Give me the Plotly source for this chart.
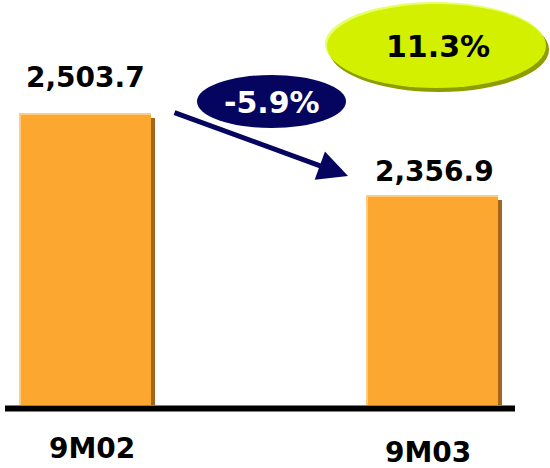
import plotly.graph_objects as go

# Nine-month totals by period
PERIODS = ["9M02", "9M03"]
VALUES = [2503.7, 2356.9]
CHANGE_LABEL = "-5.9%"
BADGE_LABEL = "11.3%"

# Canvas geometry (pixels)
W, H = 550, 468
ML, MR, MT, MB = 5, 35, 0, 63
PLOT_W = W - ML - MR
PLOT_H = H - MT - MB
Y_RANGE = [1981, 2706]
X_RANGE = [-0.2305, 1.239]
X_PX = PLOT_W / (X_RANGE[1] - X_RANGE[0])   # px per category step
Y_PX = PLOT_H / (Y_RANGE[1] - Y_RANGE[0])   # px per unit


def px(x):
    return (x - ML) / PLOT_W


def py(y):
    return (MT + PLOT_H - y) / PLOT_H


FONT = "DejaVu Sans"
ORANGE = "#FCA72F"
ORANGE_LIGHT = "#FFCB7C"
ORANGE_DARK = "#A4661C"
NAVY = "#05055F"
LIME = "#D2F000"
LIME_DARK = "#8E9C00"
LIME_LIGHT = "#E6FF6A"

fig = go.Figure()

# drop shadow on the right of each bar
fig.add_trace(go.Bar(
    x=PERIODS, y=[v - 5 / Y_PX for v in VALUES],
    width=128 / X_PX, offset=-58 / X_PX,
    marker=dict(color=ORANGE_DARK, line=dict(width=0)),
    hoverinfo="skip", showlegend=False,
))
# light bevel on top and left edges
fig.add_trace(go.Bar(
    x=PERIODS, y=VALUES,
    width=132 / X_PX, offset=-66 / X_PX,
    marker=dict(color=ORANGE_LIGHT, line=dict(width=0)),
    hoverinfo="skip", showlegend=False,
))
# main bar fill
fig.add_trace(go.Bar(
    x=PERIODS, y=[v - 2 / Y_PX for v in VALUES],
    width=130 / X_PX, offset=-64 / X_PX,
    marker=dict(color=ORANGE, line=dict(width=0)),
    hoverinfo="skip", showlegend=False,
))

annotations = []

# value labels above the bars
for p, v, dx, dy in zip(PERIODS, VALUES, [0, 2], [36, 24]):
    annotations.append(dict(
        x=p, y=v, xref="x", yref="y", text=f"{v:,.1f}", showarrow=False,
        xanchor="center", yanchor="middle", xshift=dx, yshift=dy,
        font=dict(family=FONT, size=28, color="#000000", weight="bold"),
    ))

# period labels under the baseline
for p, dx, cy in zip(PERIODS, [7, -4], [448, 452]):
    annotations.append(dict(
        x=p, y=py(cy), xref="x", yref="paper", text=p, showarrow=False,
        xanchor="center", yanchor="middle", xshift=dx,
        font=dict(family=FONT, size=28, color="#000000", weight="bold"),
    ))

# change badge text
annotations.append(dict(
    x=px(271.5), y=py(102), xref="paper", yref="paper", text=CHANGE_LABEL,
    showarrow=False, xanchor="center", yanchor="middle",
    font=dict(family=FONT, size=30, color="#FFFFFF", weight="bold"),
))
annotations.append(dict(
    x=px(438), y=py(46), xref="paper", yref="paper", text=BADGE_LABEL,
    showarrow=False, xanchor="center", yanchor="middle",
    font=dict(family=FONT, size=30, color="#000000", weight="bold"),
))

# trend arrow
annotations.append(dict(
    x=px(348), y=py(176), xref="paper", yref="paper", text="",
    showarrow=True, arrowhead=2, arrowsize=1.2, arrowwidth=5,
    arrowcolor=NAVY, ax=173 - 348, ay=112 - 176, standoff=0,
))

shapes = [
    # lime badge: shadow, highlight, face
    dict(type="circle", xref="paper", yref="paper", layer="below",
         x0=px(329), x1=px(549), y0=py(92), y1=py(7),
         fillcolor=LIME_DARK, line=dict(width=0)),
    dict(type="circle", xref="paper", yref="paper", layer="below",
         x0=px(325), x1=px(545), y0=py(86), y1=py(2),
         fillcolor=LIME_LIGHT, line=dict(width=0)),
    dict(type="circle", xref="paper", yref="paper", layer="below",
         x0=px(327), x1=px(546), y0=py(88), y1=py(4),
         fillcolor=LIME, line=dict(width=0)),
    # navy change badge
    dict(type="circle", xref="paper", yref="paper", layer="above",
         x0=px(197), x1=px(346), y0=py(128), y1=py(75),
         fillcolor=NAVY, line=dict(width=0)),
    # baseline
    dict(type="line", xref="paper", yref="paper", layer="above",
         x0=0, x1=1, y0=py(408.5), y1=py(408.5),
         line=dict(color="#000000", width=6)),
]

fig.update_layout(
    width=W, height=H,
    margin=dict(l=ML, r=MR, t=MT, b=MB, pad=0),
    paper_bgcolor="#FFFFFF", plot_bgcolor="#FFFFFF",
    barmode="overlay", bargap=0,
    showlegend=False,
    xaxis=dict(type="category", range=X_RANGE, visible=False, fixedrange=True),
    yaxis=dict(range=Y_RANGE, visible=False, fixedrange=True),
    annotations=annotations,
    shapes=shapes,
)

fig.write_html("out.html")
